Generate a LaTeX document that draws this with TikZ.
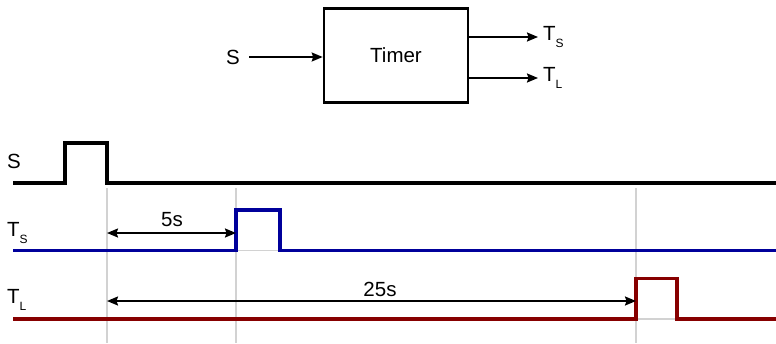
\documentclass[tikz,border=0pt]{standalone}
\usepackage{fontspec}
\setmainfont{Liberation Sans}
\usetikzlibrary{arrows.meta,calc}
\definecolor{wblue}{RGB}{0,0,155}
\definecolor{wred}{RGB}{135,0,0}
\definecolor{guide}{RGB}{210,210,210}
\newcommand{\subtxt}[1]{\raisebox{-0.3em}{\fontsize{12}{12}\selectfont #1}}
\begin{document}
\begin{tikzpicture}[x=1pt,y=-1pt,
  lbl/.style={inner sep=0pt,font=\fontsize{20.5}{24}\selectfont},
  tip/.style={},
  conn/.style={line width=1.8pt,-{Stealth[length=11pt,width=9pt,inset=1.5pt]}},
  dim/.style={line width=1.8pt,{Stealth[length=11pt,width=9pt,inset=1.5pt]}-{Stealth[length=11pt,width=9pt,inset=1.5pt]}},
  wave/.style={line width=3.3pt},
  guideline/.style={guide,line width=1.5pt}]
\useasboundingbox (0,0) rectangle (776,343);
% block diagram
\node[draw,line width=2.6pt,minimum width=144pt,minimum height=94pt,lbl] (box) at (396,55.5) {Timer};
\node[lbl] (sin) at (233,57) {S};
\node[lbl,anchor=west] (ts) at (543,37) {T\subtxt{S}};
\node[lbl,anchor=west] (tl) at (543,78) {T\subtxt{L}};
\draw[conn] ($(sin.east)+(9,0)$) -- (box.west |- sin);
\draw[conn] (box.east |- ts) -- ($(ts.west)+(-5,0)$);
\draw[conn] (box.east |- tl) -- ($(tl.west)+(-5,0)$);
% guide lines
\coordinate (g1t) at (107,188); \coordinate (g1b) at (107,343);
\coordinate (g2t) at (236,188); \coordinate (g2b) at (236,343);
\coordinate (g3t) at (636,188); \coordinate (g3b) at (636,343);
\draw[guideline] (g1t) -- (g1b);
\draw[guideline] (g2t) -- (g2b);
\draw[guideline] (g3t) -- (g3b);
\draw[guideline] (236,250.5) -- (280,250.5);
\draw[guideline] (636,319) -- (677,319);
% waveforms
\draw[wave,black,line join=miter] (13,183) -- (65,183) -- (65,143) -- (107,143) -- (107,183) -- (776,183);
\draw[wave,wblue,line join=miter] (13,250.5) -- (236,250.5) -- (236,210) -- (280,210) -- (280,250.5) -- (776,250.5);
\draw[wave,wred,line join=miter] (13,319) -- (636,319) -- (636,278.5) -- (677,278.5) -- (677,319) -- (776,319);
% labels
\node[lbl,anchor=west] (ls) at (7,161) {S};
\node[lbl,anchor=west] (lts) at (7,233) {T\subtxt{S}};
\node[lbl,anchor=west] (ltl) at (7,300) {T\subtxt{L}};
% dimensions
\coordinate (d1a) at (107,233); \coordinate (d1b) at (236,233);
\coordinate (d2a) at (107,301); \coordinate (d2b) at (636,301);
\draw[dim] (d1a) -- (d1b);
\draw[dim] (d2a) -- (d2b);
\node[lbl] (five) at (172,220) {5s};
\node[lbl] (tf) at (380,289) {25s};
\end{tikzpicture}
\end{document}
